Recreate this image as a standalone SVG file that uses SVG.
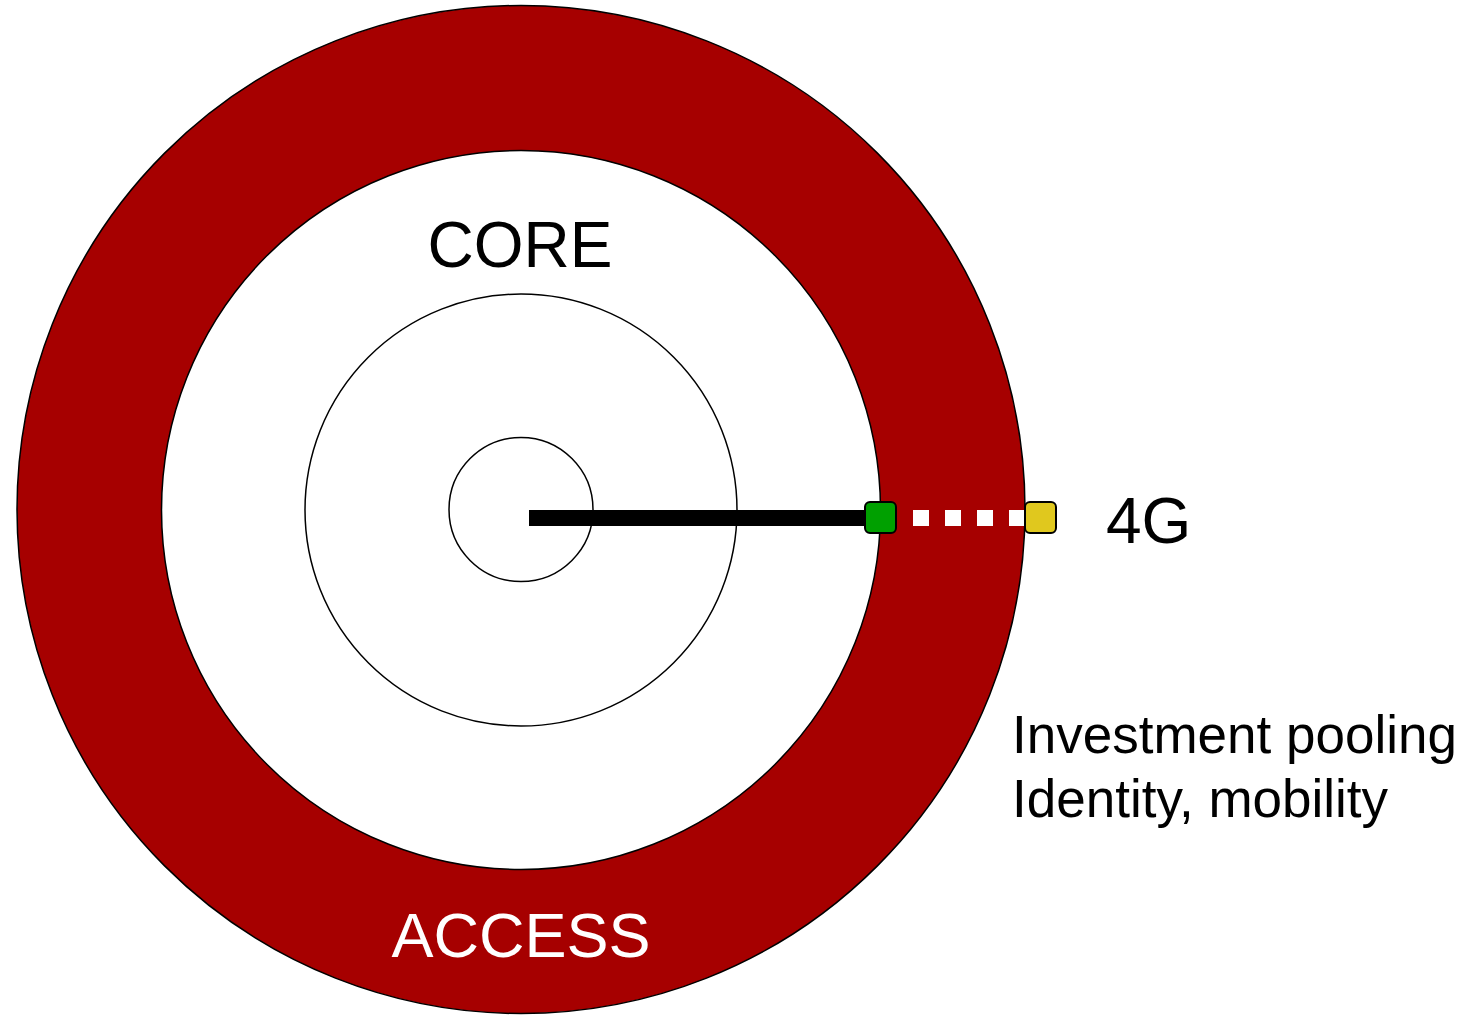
<svg xmlns="http://www.w3.org/2000/svg" width="1470" height="1015" viewBox="0 0 1470 1015">
  <style>
    .ring { stroke: #000; stroke-width: 1.5; }
    .label { font-family: "Liberation Sans", Arial, sans-serif; fill: #000; }
    .port { stroke: #000; stroke-width: 2; }
  </style>
  <rect width="1470" height="1015" fill="#fff"/>

  <!-- concentric layers -->
  <g id="access-ring">
    <circle class="ring" cx="521" cy="509.5" r="504" fill="#a60000"/>
    <text class="label" x="521" y="957" font-size="63" text-anchor="middle" style="fill:#fff">ACCESS</text>
  </g>
  <g id="core-area">
    <circle class="ring" cx="521" cy="510" r="359.5" fill="#fff"/>
    <text class="label" x="520" y="267" font-size="64" text-anchor="middle">CORE</text>
  </g>
  <g id="middle-ring">
    <circle class="ring" cx="521" cy="510" r="216" fill="none"/>
  </g>
  <g id="center-ring">
    <circle class="ring" cx="521" cy="509.5" r="72" fill="none"/>
  </g>

  <!-- links -->
  <g id="connectors">
    <line x1="529" y1="518" x2="866" y2="518" stroke="#000" stroke-width="16"/>
    <line x1="913" y1="518" x2="1025" y2="518" stroke="#fff" stroke-width="16" stroke-dasharray="16 16"/>
  </g>

  <g id="node-green">
    <rect class="port" x="865" y="502" width="31" height="31" rx="5" fill="#00a000"/>
  </g>
  <g id="node-yellow">
    <rect class="port" x="1025" y="502" width="31" height="31" rx="5" fill="#e0c81e"/>
  </g>

  <g id="label-4g">
    <text class="label" x="1106" y="543" font-size="64">4G</text>
  </g>
  <g id="label-notes">
    <text class="label" x="1012" y="753" font-size="53">Investment pooling</text>
    <text class="label" x="1012" y="817" font-size="53">Identity, mobility</text>
  </g>
</svg>
